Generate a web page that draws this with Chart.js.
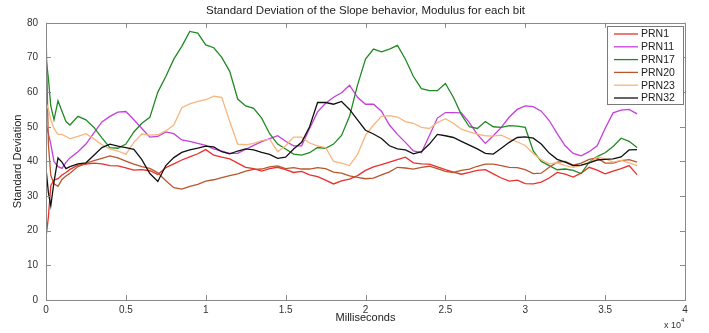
<!DOCTYPE html>
<html>
<head>
<meta charset="utf-8">
<script src="https://cdn.jsdelivr.net/npm/chart.js@4"></script>
<style>
  html, body { margin: 0; padding: 0; background: #fff; }
  #wrap { width: 709px; height: 333px; }
</style>
</head>
<body>
<div id="wrap"><canvas id="chart" width="709" height="333"></canvas></div>
<script>
// sample times in milliseconds
const timeMs = [0, 150, 300, 500, 750, 1000, 1250, 1500,
  2000, 2500, 3000, 3500, 4000, 4500, 5000, 5500, 6000, 6500,
  7000, 7500, 8000, 8500, 9000, 9500, 10000, 10500, 11000, 11500,
  12000, 12500, 13000, 13500, 14000, 14500, 15000, 15500, 16000, 16500,
  17000, 17500, 18000, 18500, 19000, 19500, 20000,
  20500, 21000, 21500, 22000, 22500, 23000, 23500, 24000, 24500, 25000,
  25500, 26000, 26500, 27000, 27500, 28000, 28500, 29000, 29500, 30000,
  30500, 31000, 31500, 32000, 32500, 33000, 33500, 34000, 34500, 35000,
  35500, 36000, 36500, 37000];

const prn1 = [18, 24, 33, 34.6, 35, 36.1, 36.8, 37.7,
  38.9, 39.2, 39.5, 39.3, 38.8, 38.7, 38.1, 37.5, 37.6, 37.3,
  36.2, 38.2, 39.3, 40.4, 41.3, 42.2, 43.4, 41.8, 41.2, 40.7,
  39.5, 38.3, 37.9, 37.2, 37.9, 38.3, 37.6, 36.8, 37.1, 36.1,
  35.6, 34.6, 33.5, 34.4, 34.9, 35.9, 37.4,
  38.4, 39.1, 39.8, 40.5, 41.2, 39.6, 39.3, 39.2, 38.4, 37.6,
  36.9, 36.3, 36.8, 37.4, 37.6, 36.4, 35.2, 34.3, 34.6, 33.6,
  33.5, 34, 35.2, 36.8, 36.3, 35.5, 36.6, 38.3, 37.5, 36.4,
  37.2, 37.9, 38.8, 36.2];

const prn11 = [51, 48, 45, 40, 38.5, 38, 39.7, 41,
  42.8, 45, 48.2, 51.4, 53, 54.2, 54.4, 52, 49.5, 47,
  47.2, 48.5, 48, 46.2, 45.8, 45.2, 44.6, 43.6, 43, 42.3,
  42.3, 43.5, 44.6, 45.7, 46.6, 47.4, 45.8, 44.5, 44.5, 49.5,
  54.3, 56.8, 58.5, 59.8, 62, 58.5, 56.5,
  56.5, 54.5, 50.5, 47.8, 45.5, 43, 42.5, 47.5, 52.5, 54.1,
  54.1, 54, 51.2, 47.8, 45.2, 47.4, 49.8, 52.8, 55, 56,
  55.8, 54.5, 51.8, 48, 44.5, 42.3, 41.6, 42.8, 44.5, 49.5,
  54, 54.8, 55, 53.7];

const prn17 = [70, 64, 56, 52, 57.5, 54.5, 51.5, 50.5,
  53, 52, 49.8, 46.8, 44, 43.8, 45, 48.5, 51, 52.7,
  60, 64.5, 69.5, 73.2, 77.5, 77, 73.6, 72.8, 70, 66,
  58, 56, 55.3, 52.5, 48, 45, 43.6, 42.1, 41.8, 42.5,
  44, 43.8, 45, 47.5, 53, 62, 69.5,
  72.4, 71.6, 72.4, 73.5, 69.5, 64.5, 61, 60.4, 60.4, 62.5,
  58.5, 53.5, 50, 49.5, 51.5, 50, 49.8, 50.3, 50.2, 49.8,
  43, 40, 38.8, 37.6, 37.8, 37.4, 36.5, 39.8, 41.4, 42.5,
  44.3, 46.7, 45.8, 44];

const prn20 = [78, 45, 36, 33.5, 32.8, 34.8, 35.8, 36.6,
  38.5, 39.4, 40.2, 40.9, 41.6, 41, 40.1, 39.2, 38.5, 38,
  36.7, 34.4, 32.4, 32, 32.8, 33.4, 34.3, 34.7, 35.3, 35.9,
  36.4, 37.2, 37.7, 37.8, 38.4, 38.7, 37.9, 38.2, 37.8, 37.8,
  38.2, 37.9, 36.9, 36.6, 35.8, 35.4, 35,
  35.2, 36.1, 37, 38.3, 38.1, 37.8, 38.3, 38.6, 37.9, 37.1,
  36.8, 37.4, 37.8, 38.6, 39.2, 39.2, 38.8, 38.3, 38.2, 37.6,
  36.5, 36.6, 38.3, 39.8, 40, 38.9, 39.5, 40.6, 41, 39.5,
  39.5, 40.2, 40.5, 39.8];

const prn23 = [57, 55, 52, 49.5, 47.8, 47.8, 47.2, 46.6,
  47.2, 48, 46.5, 44.8, 43.6, 43, 42, 45.5, 47.9, 47.6,
  47.7, 48.8, 50.5, 55.5, 56.6, 57.3, 57.8, 58.8, 58.5, 51.5,
  45, 44.8, 45.2, 46, 46.4, 42.8, 44.5, 47, 47, 45.3,
  44.5, 44, 40, 39.5, 38.8, 42, 47.5,
  50.5, 53, 53.2, 52.8, 51.5, 51, 49.8, 49.5, 51.2, 52.3,
  51, 49.3, 48.5, 47.9, 47.4, 47.3, 47.6, 46.5, 45.6, 44.6,
  42.3, 40.5, 39.3, 39.6, 38.8, 38.3, 38.8, 39.6, 41.2, 40.8,
  39.8, 40.3, 39.6, 38.8];

const prn32 = [38, 31, 27.2, 34, 41, 39.8, 37.9, 38.5,
  39.3, 39.6, 41.8, 44, 45, 44.4, 44, 43.5, 40.5, 36.5,
  34.2, 38.8, 41.1, 42.6, 43.3, 43.8, 44.4, 44.2, 42.8, 42.2,
  43, 43.6, 43.3, 42.6, 42, 40.9, 41.2, 43.6, 45.5, 50,
  57, 57, 56.5, 57.3, 55, 52, 49,
  47.9, 46.6, 44.5, 43.6, 43.3, 42.2, 42.8, 45, 47.8, 47.4,
  46.9, 45.8, 44.7, 43.6, 42.3, 42.1, 43.8, 45.5, 46.9, 47.1,
  46.7, 45, 42.4, 40.6, 39.8, 38.8, 38.9, 39.6, 40.4, 40.6,
  40.7, 41.3, 43.3, 43.4];

const seriesNames = ["PRN1", "PRN11", "PRN17", "PRN20", "PRN23", "PRN32"];
const seriesValues = [prn1, prn11, prn17, prn20, prn23, prn32];
const seriesColors = ["#e8302c", "#c43fdc", "#208a24", "#b9562b", "#f8b57c", "#111111"];

const FONT = "'Liberation Sans', Arial, sans-serif";

// matlab style box, inward ticks, exponent label and legend
const matlabFrame = {
  id: "matlabFrame",
  afterDraw(chart) {
    const ctx = chart.ctx;
    const a = chart.chartArea;
    const xs = chart.scales.x;
    const ys = chart.scales.y;
    ctx.save();
    ctx.strokeStyle = "#8a8a8a";
    ctx.lineWidth = 1;
    ctx.strokeRect(Math.round(a.left) + 0.5, Math.round(a.top) + 0.5,
      Math.round(a.right - a.left), Math.round(a.bottom - a.top));
    ctx.beginPath();
    xs.ticks.forEach((t) => {
      const px = Math.round(xs.getPixelForValue(t.value)) + 0.5;
      ctx.moveTo(px, a.bottom); ctx.lineTo(px, a.bottom - 5);
      ctx.moveTo(px, a.top); ctx.lineTo(px, a.top + 5);
    });
    ys.ticks.forEach((t) => {
      const py = Math.round(ys.getPixelForValue(t.value)) + 0.5;
      ctx.moveTo(a.left, py); ctx.lineTo(a.left + 5, py);
      ctx.moveTo(a.right, py); ctx.lineTo(a.right - 5, py);
    });
    ctx.stroke();

    // x 10^4
    ctx.fillStyle = "#333";
    ctx.font = "9px " + FONT;
    ctx.textBaseline = "alphabetic";
    ctx.textAlign = "left";
    ctx.fillText("x 10", 664, 328);
    ctx.font = "6px " + FONT;
    ctx.fillText("4", 681, 322);

    // legend
    const lx = 607, ly = 26, lw = 76, lh = 78;
    ctx.fillStyle = "#fff";
    ctx.fillRect(lx, ly, lw, lh);
    ctx.strokeStyle = "#7a7a7a";
    ctx.strokeRect(lx + 0.5, ly + 0.5, lw, lh);
    ctx.font = "10.5px " + FONT;
    ctx.textBaseline = "middle";
    chart.data.datasets.forEach((ds, i) => {
      const y = ly + 8 + i * 12.8;
      ctx.strokeStyle = ds.borderColor;
      ctx.lineWidth = 1.3;
      ctx.beginPath();
      ctx.moveTo(lx + 7, y); ctx.lineTo(lx + 31, y);
      ctx.stroke();
      ctx.fillStyle = "#222";
      ctx.fillText(ds.label, lx + 34, y + 0.5);
    });
    ctx.restore();
  },
};

new Chart(document.getElementById("chart"), {
  type: "line",
  data: {
    datasets: seriesNames.map((name, i) => ({
      label: name,
      data: timeMs.map((t, k) => ({ x: t, y: seriesValues[i][k] })),
      borderColor: seriesColors[i],
      borderWidth: 1.3,
      pointRadius: 0,
      tension: 0,
      order: seriesNames.length - i,
    })),
  },
  options: {
    responsive: false,
    animation: false,
    layout: { padding: { left: 0, right: 24, top: 0, bottom: 0 } },
    plugins: {
      legend: { display: false },
      tooltip: { enabled: false },
      title: {
        display: true,
        text: "Standard Deviation of the Slope behavior, Modulus for each bit",
        fullSize: false,
        color: "#222",
        font: { family: FONT, size: 11.5, weight: "normal" },
        padding: { top: 4, bottom: 5 },
      },
    },
    scales: {
      x: {
        type: "linear",
        min: 0,
        max: 40000,
        grid: { display: false, drawTicks: false },
        border: { display: false },
        ticks: {
          stepSize: 5000,
          padding: 4,
          color: "#333",
          font: { family: FONT, size: 10 },
          callback: (v) => String(v / 10000),
        },
        title: {
          display: true,
          text: "Milliseconds",
          color: "#222",
          font: { family: FONT, size: 11 },
          padding: { top: 0, bottom: 8 },
        },
        afterFit: (s) => { s.height = 33; },
      },
      y: {
        min: 0,
        max: 80,
        grid: { display: false, drawTicks: false },
        border: { display: false },
        ticks: {
          stepSize: 10,
          padding: 8,
          color: "#333",
          font: { family: FONT, size: 10 },
        },
        title: {
          display: true,
          text: "Standard Deviation",
          color: "#222",
          font: { family: FONT, size: 11 },
          padding: { top: 11, bottom: 0 },
        },
        afterFit: (s) => { s.width = 46; },
      },
    },
  },
  plugins: [matlabFrame],
});
</script>
</body>
</html>
